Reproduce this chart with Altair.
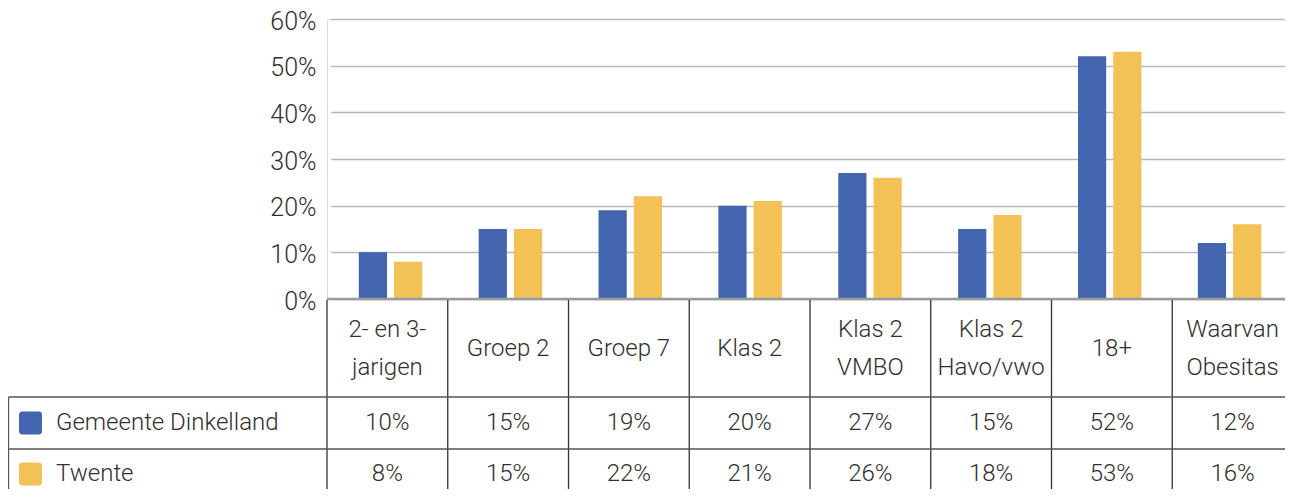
import altair as alt
import pandas as pd

categories = ["2- en 3-\njarigen", "Groep 2", "Groep 7", "Klas 2", "Klas 2\nVMBO",
              "Klas 2\nHavo/vwo", "18+", "Waarvan\nObesitas"]
series_names = ["Gemeente Dinkelland", "Twente"]
dinkelland = [0.10, 0.15, 0.19, 0.20, 0.27, 0.15, 0.52, 0.12]
twente = [0.08, 0.15, 0.22, 0.21, 0.26, 0.18, 0.53, 0.16]
colors = ["#4364ae", "#f2c257"]
y_ticks = [0, 0.1, 0.2, 0.3, 0.4, 0.5, 0.6]

FONT = "Roboto"
FS = 24
FW = 300
TXT = "#2f2f2f"
W, H = 958, 280        # visible plot width (page must not overflow)
XR = 966               # full width of the 8 table columns (last one runs past the page)
BAR_RANGE = [3.6, 962.5]  # bar groups sit on a slightly narrower grid than the table columns
LEFT = -318.5          # left border of the table (relative to plot area)
ROW_Y = [404, 455]     # text centre of data rows
HDR_Y = 330
LH = 38
LINES_Y = [378, 430]
BOTTOM = 480

df = pd.DataFrame({
    "cat": categories * 2,
    "series": [s for s in series_names for _ in categories],
    "value": dinkelland + twente,
})
cats = pd.DataFrame({"cat": categories})
one = pd.DataFrame({"a": [0]})

xscale = alt.Scale(domain=categories, range=[0, XR], paddingInner=0, paddingOuter=0)
bscale = alt.Scale(domain=categories, range=BAR_RANGE, paddingInner=0, paddingOuter=0)
cscale = alt.Scale(domain=series_names, range=colors)

bars = alt.Chart(df).mark_bar().encode(
    x=alt.X("cat:N", scale=bscale, axis=None, sort=categories),
    xOffset=alt.XOffset("series:N", scale=alt.Scale(domain=series_names, paddingInner=0.2, paddingOuter=0.8)),
    y=alt.Y("value:Q", scale=alt.Scale(domain=[0, 0.6], nice=False),
            axis=alt.Axis(values=y_ticks, format=".0%", grid=True, domain=False, ticks=False,
                          labelFontSize=FS + 1, labelPadding=11, labelColor=TXT, labelFont=FONT,
                          labelFontWeight=FW, labelOffset=2,
                          gridColor="#b8b8b8", gridWidth=1.5, title=None)),
    color=alt.Color("series:N", scale=cscale, legend=None),
)

zero = alt.Chart(one).mark_rule(color="#9a9a9a", strokeWidth=2.5).encode(
    y=alt.datum(0), x=alt.value(0), x2=alt.value(XR))

vlines = alt.Chart(cats).mark_rule(color="#333333", strokeWidth=1.3).encode(
    x=alt.X("cat:N", scale=xscale, bandPosition=0, axis=None),
    y=alt.value(H + 1), y2=alt.value(BOTTOM))

leftline = alt.Chart(one).mark_rule(color="#555555", strokeWidth=1.3).encode(
    x=alt.value(LEFT), y=alt.value(LINES_Y[0]), y2=alt.value(BOTTOM))

hlines = [alt.Chart(one).mark_rule(color="#555555", strokeWidth=1.3).encode(
    y=alt.value(yy), x=alt.value(LEFT), x2=alt.value(XR)) for yy in LINES_Y]

def header_layer(multi):
    expr = "indexof(datum.cat, '\\n') >= 0" if multi else "indexof(datum.cat, '\\n') < 0"
    return alt.Chart(cats).transform_filter(expr).mark_text(
        lineBreak="\n", lineHeight=LH, fontSize=FS, font=FONT, fontWeight=FW,
        baseline="middle", align="center", color=TXT).encode(
        x=alt.X("cat:N", scale=xscale, axis=None),
        y=alt.value(HDR_Y - LH / 2 if multi else HDR_Y), text="cat:N")

layers = [bars, zero, vlines, leftline] + hlines + [header_layer(True), header_layer(False)]

for i, s in enumerate(series_names):
    sub = df[df["series"] == s]
    layers.append(alt.Chart(sub).mark_text(fontSize=FS, font=FONT, fontWeight=FW, baseline="middle",
                                           align="center", color=TXT).encode(
        x=alt.X("cat:N", scale=xscale, axis=None),
        y=alt.value(ROW_Y[i]),
        text=alt.Text("value:Q", format=".0%")))
    leg = pd.DataFrame({"series": [s]})
    layers.append(alt.Chart(leg).mark_rect(cornerRadius=3).encode(
        x=alt.value(-308), x2=alt.value(-285),
        y=alt.value(ROW_Y[i] - 11.5), y2=alt.value(ROW_Y[i] + 11.5),
        color=alt.Color("series:N", scale=cscale, legend=None)))
    layers.append(alt.Chart(leg).mark_text(fontSize=FS, font=FONT, fontWeight=FW, baseline="middle",
                                           align="left", color=TXT).encode(
        x=alt.value(-271), y=alt.value(ROW_Y[i]), text="series:N"))

chart = alt.layer(*layers).resolve_scale(x="independent").properties(
    width=W, height=H,
    autosize=alt.AutoSizeParams(type="none"),
    padding={"left": 319, "top": 11, "right": 0, "bottom": 190},
).configure_view(stroke=None).configure(font=FONT)

chart.save("out.html", embed_options={"renderer": "svg", "actions": False})
